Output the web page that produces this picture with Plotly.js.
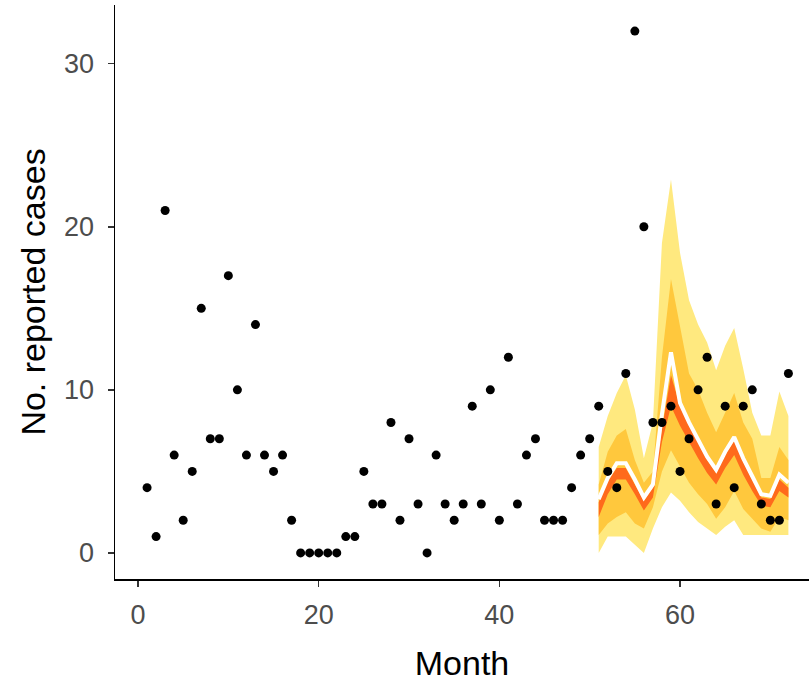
<!DOCTYPE html>
<html>
<head>
<meta charset="utf-8">
<script src="https://cdn.plot.ly/plotly-3.0.1.min.js"></script>
<style>html,body{margin:0;padding:0;background:#fff;}#chart{width:809px;height:683px;}</style>
</head>
<body>
<div id="chart"></div>
<script>
// Observed monthly case counts (months 1..72)
var months = [];
for (var i = 1; i <= 72; i++) months.push(i);
var cases = [4,1,21,6,2,5,15,7,7,17,10,6,14,6,5,6,2,0,0,0,0,0,1,1,5,3,3,8,2,7,3,0,6,3,2,3,9,3,10,2,12,3,6,7,2,2,2,4,6,7,9,5,4,11,32,20,8,8,9,5,7,10,12,3,9,4,9,10,3,2,2,11];

// Forecast period (months 51..72) and prediction bands
var fcMonths = [51,52,53,54,55,56,57,58,59,60,61,62,63,64,65,66,67,68,69,70,71,72];
var outerLo  = [0.0,1.0,1.0,1.0,0.5,0.0,1.5,2.8,3.7,3.2,2.5,1.9,1.5,1.1,1.6,2.0,1.1,1.1,1.1,1.1,1.1,1.1];
var outerHi  = [6.5,8.4,9.8,10.9,8.8,5.8,8.0,19.0,22.9,18.4,15.5,14.0,12.9,11.2,12.7,13.8,11.3,8.6,7.2,7.2,9.9,8.4];
var midLo    = [1.1,1.8,2.2,2.5,1.8,1.5,2.8,5.0,6.3,5.3,4.3,3.6,3.0,2.1,2.8,3.8,2.7,2.1,1.5,1.3,2.2,2.0];
var midHi    = [4.2,6.2,7.2,7.6,5.7,4.3,5.0,12.0,16.8,13.9,11.0,10.0,8.6,7.4,8.6,9.8,8.0,7.0,4.6,4.6,6.5,5.7];
var innerLo  = [2.2,3.6,4.5,4.5,3.6,2.6,3.4,6.8,9.0,7.8,6.8,5.8,4.9,4.2,5.2,6.0,4.8,3.8,2.9,2.8,3.8,3.4];
var innerHi  = [3.1,4.4,5.2,5.2,4.2,3.2,4.0,7.6,10.9,9.0,7.8,6.8,5.7,4.9,6.0,6.9,5.6,4.5,3.4,3.3,4.5,4.0];
var median   = [3.3,4.6,5.5,5.5,4.5,3.4,4.2,8.5,12.3,9.2,8.0,7.0,5.9,5.1,6.2,7.1,5.8,4.7,3.6,3.5,4.8,4.3];

var xTicks = [0,20,40,60];
var yTicks = [0,10,20,30];

function band(lo, hi, color) {
  return [
    {x: fcMonths, y: lo, mode: 'lines', line: {width: 0, color: color}, hoverinfo: 'skip', showlegend: false},
    {x: fcMonths, y: hi, mode: 'lines', line: {width: 0, color: color}, fill: 'tonexty', fillcolor: color, hoverinfo: 'skip', showlegend: false}
  ];
}

var traces = [];
traces = traces.concat(band(outerLo, outerHi, '#FFE97F'));
traces = traces.concat(band(midLo, midHi, '#FFC83D'));
traces = traces.concat(band(innerLo, innerHi, '#FF6A1C'));
traces.push({x: fcMonths, y: median, mode: 'lines', line: {width: 4, color: '#FFFFFF'}, showlegend: false, hoverinfo: 'skip'});
traces.push({x: months, y: cases, mode: 'markers', marker: {size: 9, color: '#000000'}, showlegend: false});

var fontFam = '"Liberation Sans", Arial, sans-serif';
var layout = {
  width: 809, height: 683,
  margin: {l: 115, r: 0, t: 5, b: 104},
  paper_bgcolor: '#FFFFFF', plot_bgcolor: '#FFFFFF',
  font: {family: fontFam},
  xaxis: {
    range: [-2.55, 74.28],
    tickvals: xTicks, ticktext: xTicks.map(String),
    showgrid: false, zeroline: false,
    showline: true, linecolor: '#000000', linewidth: 1.5,
    ticks: 'outside', ticklen: 6, tickwidth: 1.5, tickcolor: '#333333',
    tickfont: {size: 27, color: '#4D4D4D', family: fontFam},
    ticklabelstandoff: 5,
    title: {text: 'Month', font: {size: 34, color: '#000000', family: fontFam}, standoff: 22}
  },
  yaxis: {
    range: [-1.6, 33.6],
    tickvals: yTicks, ticktext: yTicks.map(String),
    showgrid: false, zeroline: false,
    showline: true, linecolor: '#000000', linewidth: 1.5,
    ticks: 'outside', ticklen: 6, tickwidth: 1.5, tickcolor: '#333333',
    tickfont: {size: 27, color: '#4D4D4D', family: fontFam},
    ticklabelstandoff: 8,
    title: {text: 'No. reported cases', font: {size: 34, color: '#000000', family: fontFam}, standoff: 8}
  }
};

Plotly.newPlot('chart', traces, layout, {displayModeBar: false, staticPlot: true});
</script>
</body>
</html>
